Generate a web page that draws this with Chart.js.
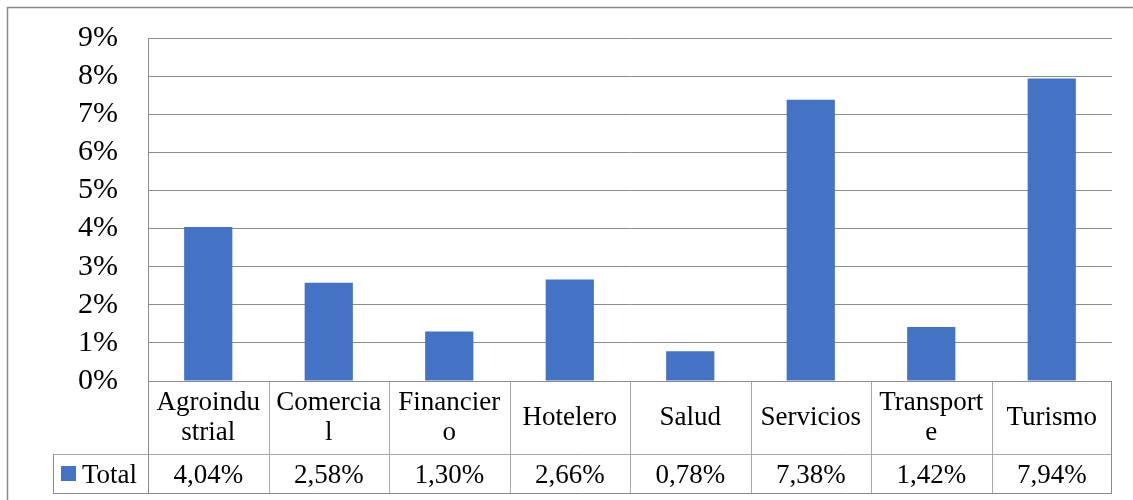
<!DOCTYPE html>
<html>
<head>
<meta charset="utf-8">
<script src="https://cdn.jsdelivr.net/npm/chart.js@4.4.1/dist/chart.umd.min.js"></script>
<style>
  html, body { margin: 0; padding: 0; background: #ffffff; }
  #wrap { position: relative; width: 1133px; height: 500px; }
  canvas { display: block; }
</style>
</head>
<body>
<div id="wrap"><canvas id="c" width="1133" height="500"></canvas></div>
<script>
// ---- data ----
const categories = [
  ["Agroindu", "strial"],
  ["Comercia", "l"],
  ["Financier", "o"],
  "Hotelero",
  "Salud",
  "Servicios",
  ["Transport", "e"],
  "Turismo"
];
const seriesName = "Total";
const totalValues = [4.04, 2.58, 1.30, 2.66, 0.78, 7.38, 1.42, 7.94];
const yTicks = [0, 1, 2, 3, 4, 5, 6, 7, 8, 9];

// ---- style ----
const FONT = "'Liberation Serif', 'Times New Roman', serif";
const BAR = "#4472C4";
const GRID = "#8c8c8c";
const TABLE_INNER = "#a8a8a8";
const TABLE_OUTER = "#8a8a8a";
const CAT_ROW_H = 73;
const VAL_ROW_H = 40;
const LEGEND_LEFT = 53;

function fmt(v) { return v.toFixed(2).replace('.', ',') + '%'; }

const tablePlugin = {
  id: 'dataTable',
  afterDraw(chart) {
    const ctx = chart.ctx;
    const ca = chart.chartArea;
    const xs = chart.scales.x;
    const n = categories.length;
    const yTop = ca.bottom;
    const yMid = yTop + CAT_ROW_H;
    const yBot = yMid + VAL_ROW_H;

    const bounds = [ca.left];
    for (let i = 0; i < n - 1; i++) {
      bounds.push((xs.getPixelForTick(i) + xs.getPixelForTick(i + 1)) / 2);
    }
    bounds.push(ca.right);

    ctx.save();
    ctx.lineWidth = 1;
    ctx.strokeStyle = TABLE_INNER;
    ctx.beginPath();
    for (let i = 1; i < bounds.length - 1; i++) {
      const x = Math.round(bounds[i]) + 0.5;
      ctx.moveTo(x, yTop);
      ctx.lineTo(x, yBot);
    }
    ctx.moveTo(LEGEND_LEFT, Math.round(yMid) + 0.5);
    ctx.lineTo(ca.right, Math.round(yMid) + 0.5);
    ctx.stroke();

    ctx.strokeStyle = TABLE_OUTER;
    ctx.beginPath();
    const xl = Math.round(ca.left) + 0.5;
    const xr = Math.round(ca.right) - 0.5;
    ctx.moveTo(xl, yTop); ctx.lineTo(xl, yBot);
    ctx.moveTo(xr, yTop); ctx.lineTo(xr, yBot);
    ctx.moveTo(LEGEND_LEFT + 0.5, yMid); ctx.lineTo(LEGEND_LEFT + 0.5, yBot);
    ctx.moveTo(LEGEND_LEFT, Math.round(yBot) - 0.5); ctx.lineTo(ca.right, Math.round(yBot) - 0.5);
    ctx.stroke();

    ctx.fillStyle = '#000';
    ctx.font = "27px " + FONT;
    ctx.textAlign = 'center';
    ctx.textBaseline = 'alphabetic';
    const baseY = yBot - 11;
    totalValues.forEach((v, i) => {
      ctx.fillText(fmt(v), xs.getPixelForTick(i), baseY);
    });

    ctx.fillStyle = BAR;
    ctx.fillRect(61, yMid + 12, 15, 15);
    ctx.fillStyle = '#000';
    ctx.textAlign = 'left';
    ctx.fillText(seriesName, 82, baseY);

    ctx.strokeStyle = '#8c8c8c';
    ctx.lineWidth = 1.5;
    ctx.strokeRect(7.5, 7.5, 1200, 600);
    ctx.restore();
  }
};

new Chart(document.getElementById('c'), {
  type: 'bar',
  data: {
    labels: categories,
    datasets: [{
      label: seriesName,
      data: totalValues,
      backgroundColor: BAR,
      borderWidth: 0,
      categoryPercentage: 1.0,
      barPercentage: 0.4
    }]
  },
  options: {
    responsive: false,
    animation: false,
    devicePixelRatio: 1,
    layout: { padding: { left: 0, right: 21, top: 38, bottom: 0 } },
    plugins: {
      legend: { display: false },
      tooltip: { enabled: false },
      title: { display: false }
    },
    scales: {
      y: {
        min: yTicks[0],
        max: yTicks[yTicks.length - 1],
        afterBuildTicks(scale) { scale.ticks = yTicks.map(v => ({ value: v })); },
        afterFit(scale) { scale.width = 148; scale.paddingTop = 0; scale.paddingBottom = 0; },
        ticks: {
          callback: (v) => v + '%',
          font: { family: FONT, size: 30 },
          color: '#000',
          padding: 30,
          autoSkip: false
        },
        grid: { color: GRID, lineWidth: 1, drawTicks: false },
        border: { display: true, color: GRID, width: 1 }
      },
      x: {
        afterFit(scale) { scale.height = 119; },
        ticks: {
          font: { family: FONT, size: 27, lineHeight: 1.11 },
          color: '#000',
          padding: 22,
          crossAlign: 'center',
          maxRotation: 0,
          minRotation: 0,
          autoSkip: false
        },
        grid: { display: false, drawTicks: false },
        border: { display: false }
      }
    }
  },
  plugins: [tablePlugin]
});
</script>
</body>
</html>
